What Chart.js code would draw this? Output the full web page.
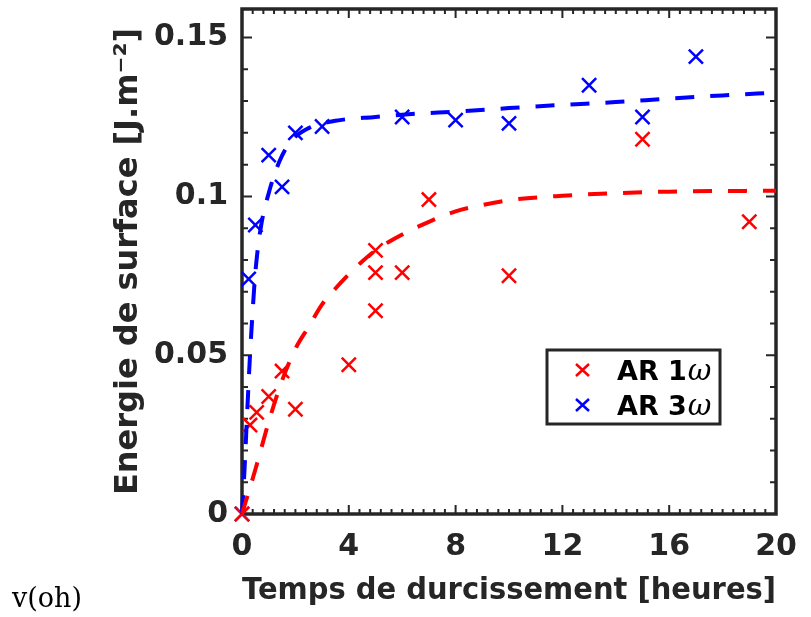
<!DOCTYPE html>
<html>
<head>
<meta charset="utf-8">
<script src="https://cdn.jsdelivr.net/npm/chart.js@4.4.1/dist/chart.umd.min.js"></script>
<style>
  body { margin: 0; background: #fff; }
  #wrap { position: relative; width: 811px; height: 617px; }
  #note { position: absolute; left: 12px; top: 582px; font: 27px "DejaVu Serif", serif; color: #000; }
</style>
</head>
<body>
<div id="wrap">
  <canvas id="chart" width="811" height="617"></canvas>
  <div id="note">v(oh)</div>
</div>
<script>
// Measured points (hours, J.m-2)
const hours1w = [0, 0.3, 0.55, 1, 1.5, 2, 4, 5, 5, 5, 6, 7, 10, 15, 19];
const energy1w = [0, 0.028, 0.032, 0.037, 0.045, 0.033, 0.047, 0.064, 0.076, 0.083, 0.076, 0.099, 0.075, 0.118, 0.092];
const hours3w = [0, 0.25, 0.5, 1, 1.5, 2, 3, 6, 8, 10, 13, 15, 17];
const energy3w = [0, 0.074, 0.091, 0.113, 0.103, 0.120, 0.122, 0.125, 0.124, 0.123, 0.135, 0.125, 0.144];

// Fitted curves
const fitHours1w = [0, 0.5, 1, 1.5, 2, 2.5, 3, 3.5, 4, 4.5, 5, 6, 7, 8, 9, 10, 12, 14, 16, 20];
const fitEnergy1w = [0, 0.014, 0.029, 0.042, 0.052, 0.059, 0.066, 0.071, 0.0755, 0.0795, 0.083, 0.088, 0.092, 0.0953, 0.0973, 0.0988, 0.1002, 0.101, 0.1015, 0.1018];
const fitHours3w = [0, 0.1, 0.2, 0.3, 0.4, 0.5, 0.7, 1, 1.4, 1.8, 2.5, 3.5, 5, 6.5, 8, 10, 12, 14, 16, 18, 20];
const fitEnergy3w = [0, 0.015, 0.033, 0.05, 0.064, 0.076, 0.09, 0.101, 0.111, 0.117, 0.1215, 0.1238, 0.125, 0.126, 0.1267, 0.1278, 0.1288, 0.1297, 0.1308, 0.1318, 0.1327];

const xTicks = [0, 4, 8, 12, 16, 20];
const yTicks = [0, 0.05, 0.1, 0.15];

const ink = '#262626';
const red = '#ff0000';
const blue = '#0000ff';

function pts(xs, ys) {
    return xs.map((x, i) => ({ x: x, y: ys[i] }));
}

// frame with inward ticks on all four sides, MATLAB style
const boxTicks = {
    id: 'boxTicks',
    beforeDatasetsDraw(chart) {
        const { ctx, chartArea: a, scales: { x, y } } = chart;
        ctx.save();
        ctx.strokeStyle = ink;
        ctx.lineWidth = 2;
        ctx.beginPath();
        for (let v = 0; v <= 20.001; v += 0.4) {
            const major = Math.abs(v / 4 - Math.round(v / 4)) < 1e-6;
            const px = x.getPixelForValue(v);
            const len = major ? 9 : 5;
            ctx.moveTo(px, a.bottom); ctx.lineTo(px, a.bottom - len);
            ctx.moveTo(px, a.top); ctx.lineTo(px, a.top + len);
        }
        for (let v = 0; v <= 0.159; v += 0.01) {
            const major = Math.abs(v / 0.05 - Math.round(v / 0.05)) < 1e-6;
            const py = y.getPixelForValue(v);
            const len = major ? 10 : 6;
            ctx.moveTo(a.left, py); ctx.lineTo(a.left + len, py);
            ctx.moveTo(a.right, py); ctx.lineTo(a.right - len, py);
        }
        ctx.stroke();
        ctx.lineWidth = 3.5;
        ctx.strokeRect(a.left, a.top, a.right - a.left, a.bottom - a.top);
        ctx.restore();
    }
};

// legend box inside the axes
const boxLegend = {
    id: 'boxLegend',
    afterDraw(chart) {
        const ctx = chart.ctx;
        ctx.save();
        ctx.fillStyle = '#fff';
        ctx.fillRect(547, 350, 173, 74);
        ctx.strokeStyle = ink;
        ctx.lineWidth = 3;
        ctx.strokeRect(547, 350, 173, 74);
        const rows = [['AR 1', red, 370], ['AR 3', blue, 405]];
        rows.forEach(([txt, col, cy]) => {
            ctx.strokeStyle = col;
            ctx.lineWidth = 2.5;
            ctx.beginPath();
            ctx.moveTo(576, cy - 6); ctx.lineTo(589, cy + 6);
            ctx.moveTo(589, cy - 6); ctx.lineTo(576, cy + 6);
            ctx.stroke();
            ctx.fillStyle = '#000';
            ctx.textBaseline = 'alphabetic';
            ctx.font = 'bold 27px "DejaVu Sans"';
            ctx.fillText(txt, 617, cy + 10);
            const w = ctx.measureText(txt).width;
            ctx.font = 'italic 29px "DejaVu Serif"';
            ctx.fillText('\u03c9', 617 + w + 1, cy + 10);
        });
        ctx.restore();
    }
};

const ctx = document.getElementById('chart').getContext('2d');
new Chart(ctx, {
    type: 'scatter',
    data: {
        datasets: [
            {
                label: 'fit 1w',
                data: pts(fitHours1w, fitEnergy1w),
                showLine: true,
                borderColor: red,
                borderWidth: 4,
                borderDash: [19, 16],
                pointRadius: 0,
                cubicInterpolationMode: 'monotone',
                clip: false
            },
            {
                label: 'fit 3w',
                data: pts(fitHours3w, fitEnergy3w),
                showLine: true,
                borderColor: blue,
                borderWidth: 4,
                borderDash: [19, 16],
                pointRadius: 0,
                cubicInterpolationMode: 'monotone',
                clip: false
            },
            {
                label: 'AR 1ω',
                data: pts(hours1w, energy1w),
                pointStyle: 'crossRot',
                pointRadius: 10,
                borderColor: red,
                borderWidth: 2.5,
                clip: false
            },
            {
                label: 'AR 3ω',
                data: pts(hours3w, energy3w),
                pointStyle: 'crossRot',
                pointRadius: 10,
                borderColor: blue,
                borderWidth: 2.5,
                clip: false
            }
        ]
    },
    options: {
        responsive: false,
        animation: false,
        layout: { autoPadding: false, padding: { top: 9, right: 35, left: 0, bottom: 0 } },
        plugins: { legend: { display: false }, tooltip: { enabled: false } },
        scales: {
            x: {
                type: 'linear',
                min: 0,
                max: 20,
                grid: { display: false, drawTicks: false },
                border: { display: false },
                afterBuildTicks: s => { s.ticks = xTicks.map(v => ({ value: v })); },
                afterFit: s => { s.height = 103; s.paddingLeft = 0; s.paddingRight = 0; },
                ticks: {
                    color: ink,
                    padding: 15,
                    maxRotation: 0,
                    font: { family: 'DejaVu Sans', weight: 'bold', size: 30 }
                },
                title: {
                    display: true,
                    text: 'Temps de durcissement [heures]',
                    color: ink,
                    padding: { top: 7, bottom: 7 },
                    font: { family: 'DejaVu Sans', weight: 'bold', size: 31 }
                }
            },
            y: {
                type: 'linear',
                min: 0,
                max: 0.159,
                grid: { display: false, drawTicks: false },
                border: { display: false },
                afterBuildTicks: s => { s.ticks = yTicks.map(v => ({ value: v })); },
                afterFit: s => { s.width = 242; s.paddingTop = 0; s.paddingBottom = 0; },
                ticks: {
                    color: ink,
                    padding: 14,
                    font: { family: 'DejaVu Sans', weight: 'bold', size: 30 },
                    callback: v => String(+v.toFixed(2))
                },
                title: {
                    display: true,
                    text: 'Energie de surface [J.m\u207b\u00b2]',
                    color: ink,
                    padding: { top: 109, bottom: 0 },
                    font: { family: 'DejaVu Sans', weight: 'bold', size: 32 }
                }
            }
        }
    },
    plugins: [boxTicks, boxLegend]
});
</script>
</body>
</html>
